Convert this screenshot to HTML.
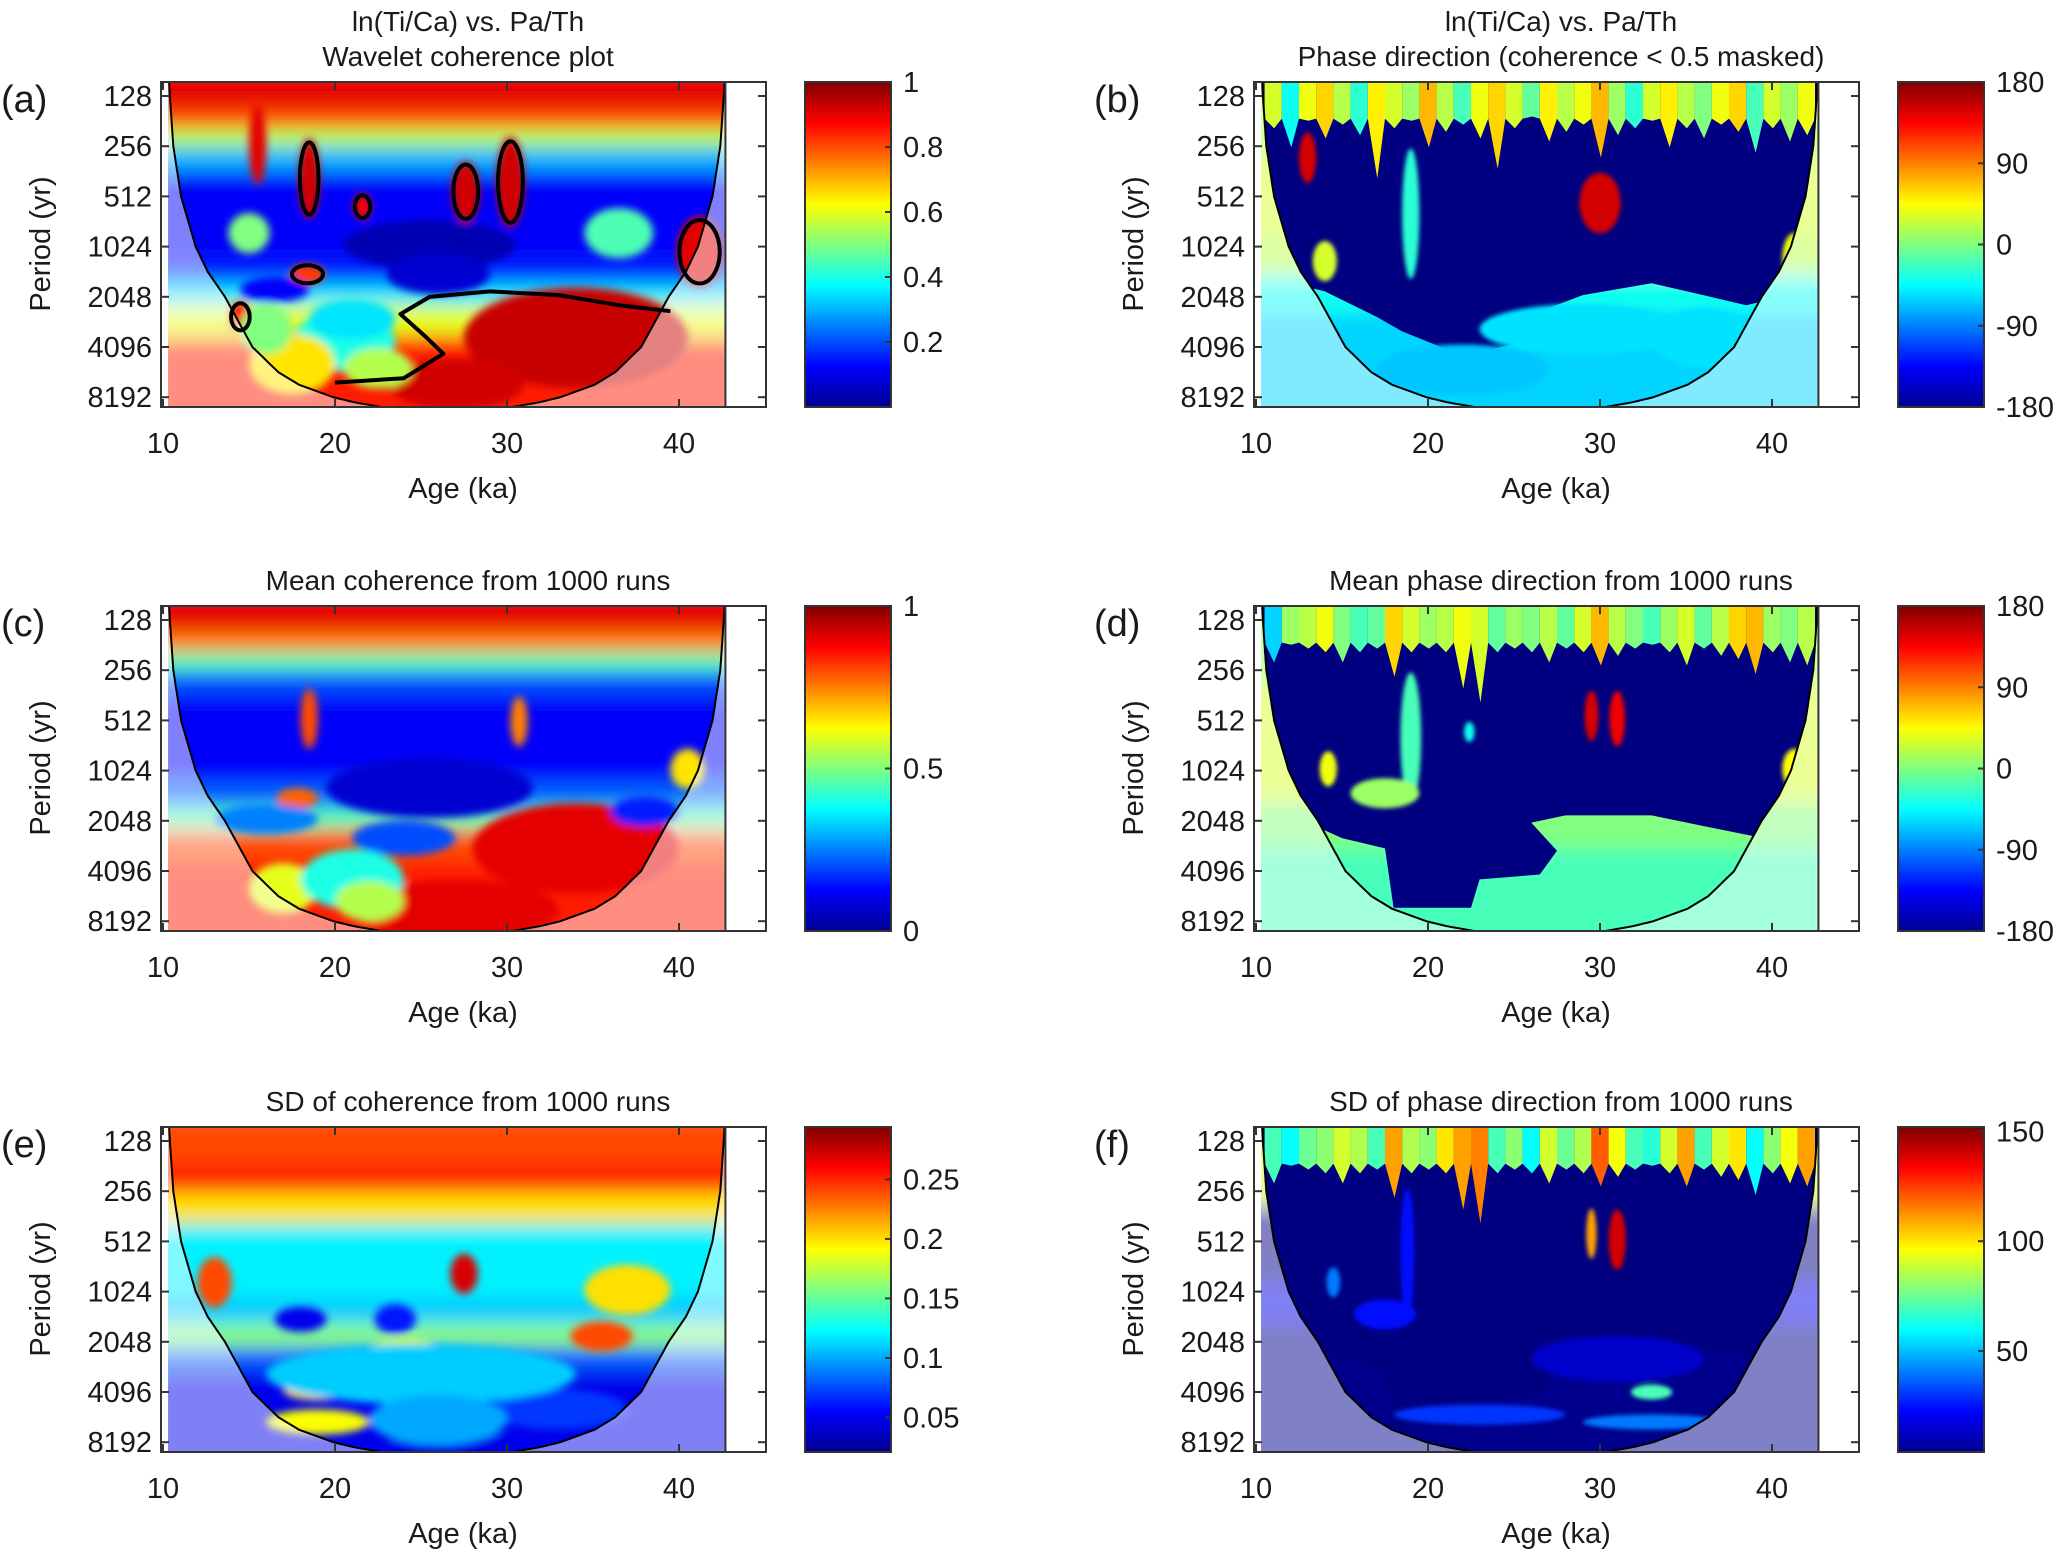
<!DOCTYPE html>
<html><head><meta charset="utf-8">
<style>
html,body{margin:0;padding:0;background:#fff;}
svg text{font-family:"Liberation Sans",Arial,sans-serif;fill:#1a1a1a;}
</style></head>
<body>
<svg id="fig" xmlns="http://www.w3.org/2000/svg" width="2067" height="1558" viewBox="0 0 2067 1558">
<defs>
<filter id="blurS" x="-20%" y="-20%" width="140%" height="140%"><feGaussianBlur stdDeviation="9"/></filter>
<filter id="blurM" x="-50%" y="-50%" width="200%" height="200%"><feGaussianBlur stdDeviation="4"/></filter>
<filter id="blurT" x="-20%" y="-20%" width="140%" height="140%"><feGaussianBlur stdDeviation="2"/></filter>
<linearGradient id="jetGrad" x1="0" y1="1" x2="0" y2="0">
<stop offset="0" stop-color="#00008f"/><stop offset="0.125" stop-color="#0000ff"/><stop offset="0.375" stop-color="#00ffff"/><stop offset="0.625" stop-color="#ffff00"/><stop offset="0.875" stop-color="#ff0000"/><stop offset="1" stop-color="#800000"/>
</linearGradient>
</defs>
</svg>
<script>
// ---------------- data ----------------
const ageTicks = [10, 20, 30, 40];
const periodTicks = [128, 256, 512, 1024, 2048, 4096, 8192];
const coiLog2 = [6.7, 7, 8, 9, 10, 10.5, 11, 11.5, 12, 12.5, 12.75, 13, 13.1, 13.25];
const coiDist = [0.05, 0.1, 0.3, 0.75, 1.6, 2.3, 3.3, 4.1, 4.9, 6.4, 7.6, 9.6, 10.8, 13.3];
const fingerAges = [11,12,13,14,15,16,17,18,19,20,21,22,23,24,25,26,27,28,29,30,31,32,33,34,35,36,37,38,39,40,41,42];

// panel a: coherence
const aBandPer = [90, 150, 200, 260, 360, 1200, 1700, 2300, 3500, 12000];
const aBandVal = [0.9, 0.8, 0.55, 0.3, 0.12, 0.15, 0.35, 0.6, 0.85];
const aBlobAge = [18.5, 27.6, 30.2, 21.6, 41.2, 18.4, 34, 27, 20.5, 17.5, 25.5, 15, 36.5, 16.5, 26, 14.5, 21, 15.5, 22.5, 16];
const aBlobPer = [400, 480, 420, 590, 1100, 1500, 3600, 6800, 3800, 5200, 1000, 850, 850, 1850, 1500, 2700, 2800, 250, 5500, 3200];
const aBlobVal = [0.92, 0.92, 0.92, 0.88, 0.9, 0.82, 0.93, 0.92, 0.4, 0.65, 0.05, 0.5, 0.45, 0.12, 0.08, 0.85, 0.35, 0.9, 0.55, 0.5];
const aBlobW = [0.6, 0.8, 0.8, 0.5, 1.3, 1.0, 6.5, 4, 3, 2.5, 5, 1.2, 2, 2, 3, 0.6, 2.5, 0.5, 2, 1.5];
const aBlobH = [0.8, 0.6, 0.9, 0.25, 0.7, 0.2, 1.0, 0.5, 0.6, 0.6, 0.5, 0.4, 0.5, 0.25, 0.4, 0.3, 0.4, 0.8, 0.4, 0.5];
const aContourAge = [20, 24, 26.3, 25.2, 23.8, 25.5, 29, 33, 36.5, 39.5];
const aContourPer = [6700, 6300, 4500, 3500, 2600, 2050, 1900, 2000, 2300, 2500];

// panel c: mean coherence
const cBandPer = [90, 150, 200, 260, 360, 1200, 1700, 2300, 3500, 12000];
const cBandVal = [0.9, 0.75, 0.45, 0.2, 0.12, 0.22, 0.45, 0.8, 0.85];
const cBlobAge = [18.5, 30.7, 34, 27, 24, 17, 21, 25.5, 17.8, 40.5, 16, 38, 22];
const cBlobPer = [500, 520, 3000, 7000, 2600, 5200, 4600, 1300, 1500, 1000, 2000, 1800, 6200];
const cBlobVal = [0.8, 0.75, 0.9, 0.9, 0.2, 0.6, 0.4, 0.08, 0.78, 0.65, 0.25, 0.15, 0.55];
const cBlobW = [0.5, 0.5, 6, 6, 3, 2, 3, 6, 1.2, 1, 3, 2, 2];
const cBlobH = [0.6, 0.5, 0.9, 0.6, 0.35, 0.5, 0.6, 0.6, 0.2, 0.4, 0.3, 0.3, 0.4];

// panel e: SD of coherence
const eBandPer = [90, 170, 260, 400, 1100, 1600, 2200, 3000, 6000, 12000];
const eBandVal = [0.24, 0.25, 0.2, 0.12, 0.11, 0.16, 0.08, 0.05, 0.05];
const eBlobAge = [13, 27.5, 35.5, 37, 18, 23.5, 19, 19, 24, 33, 27, 25, 26];
const eBlobPer = [900, 800, 1900, 1000, 1500, 1500, 4000, 6200, 2300, 5200, 8600, 3200, 6000];
const eBlobVal = [0.24, 0.27, 0.24, 0.2, 0.05, 0.06, 0.2, 0.19, 0.18, 0.07, 0.05, 0.11, 0.1];
const eBlobW = [1.0, 0.8, 1.8, 2.5, 1.5, 1.2, 2, 3, 2, 4, 4, 9, 4];
const eBlobH = [0.5, 0.4, 0.3, 0.5, 0.25, 0.3, 0.2, 0.25, 0.25, 0.4, 0.3, 0.6, 0.5];

// panel b: phase (masked)
const bBandPer = [90, 300, 900, 1500, 2600, 12000];
const bBandVal = [20, 30, 20, -40, -60];
const bFingerDepth = [200,260,180,230,190,220,400,200,180,260,210,190,230,350,200,170,240,210,190,300,220,200,180,260,200,230,190,210,280,200,240,220];
const bFingerVal = [30,-40,40,60,20,-30,50,30,10,70,20,-20,40,60,30,-10,50,20,40,70,10,-30,30,50,20,0,40,60,-20,30,10,40];
const bMaskAge = [10, 14, 17, 18.5, 21, 23, 25.5, 27, 29, 33, 36, 38.5, 41, 43];
const bMaskPer = [1500, 1900, 2700, 3300, 4200, 4400, 3800, 2400, 2000, 1700, 2000, 2300, 2000, 1700];
const bBlobAge = [19, 30, 14, 41.3, 13, 29, 22, 36];
const bBlobPer = [650, 560, 1250, 1200, 300, 3200, 5600, 3600];
const bBlobVal = [-30, 150, 30, 40, 150, -55, -65, -55];
const bBlobW = [0.5, 1.2, 0.7, 0.7, 0.5, 6, 5, 3];
const bBlobH = [1.3, 0.6, 0.4, 0.5, 0.5, 0.5, 0.5, 0.6];

// panel d: mean phase
const dBandPer = [90, 300, 1000, 1600, 3000, 12000];
const dBandVal = [10, 30, 30, 0, -20];
const dFingerDepth = [230,180,190,200,230,200,190,280,200,190,200,330,400,200,190,200,230,190,200,240,210,190,180,200,240,190,210,220,270,200,230,240];
const dFingerVal = [-60,10,20,40,0,-20,-10,60,30,10,20,40,30,-10,10,0,20,-10,30,70,20,0,-20,10,30,-10,20,60,70,10,0,20];
const dMaskAge = [10, 13, 15, 17.5, 18, 22.5, 23, 26.5, 27.5, 26, 28, 33, 36, 39.5, 43];
const dMaskPer = [1900, 2100, 2600, 3000, 6800, 6800, 4600, 4300, 3100, 2100, 1900, 1900, 2200, 2600, 2600];
const dBlobAge = [19, 29.5, 31, 14.2, 41.3, 17.5, 22.4];
const dBlobPer = [650, 480, 500, 1000, 1000, 1400, 600];
const dBlobVal = [-20, 150, 140, 40, 45, 10, -40];
const dBlobW = [0.6, 0.4, 0.45, 0.5, 0.7, 2, 0.3];
const dBlobH = [1.3, 0.5, 0.55, 0.35, 0.4, 0.3, 0.2];

// panel f: SD of phase
const fBandPer = [90, 300, 900, 1600, 12000];
const fBandVal = [90, 5, 20, 6];
const fFingerDepth = [230,180,190,200,230,200,190,280,200,190,200,330,400,200,190,200,230,190,200,240,210,190,180,200,240,190,210,220,270,200,230,240];
const fFingerVal = [70,60,75,80,90,85,70,110,85,80,100,110,115,70,80,60,90,75,85,120,95,70,65,90,110,70,90,100,60,80,95,110];
const fMaskAge = [10, 13, 15, 17.5, 18, 22.5, 23, 26.5, 27.5, 26, 28, 33, 36, 39.5, 43];
const fMaskPer = [1900, 2100, 2600, 3000, 6800, 6800, 4600, 4300, 3100, 2100, 1900, 1900, 2200, 2600, 2600];
const fBlobAge = [29.5, 31, 18.8, 14.5, 17.5, 31, 33, 23, 33];
const fBlobPer = [460, 500, 600, 900, 1400, 2600, 4100, 5600, 6200];
const fBlobVal = [110, 140, 25, 40, 25, 15, 70, 30, 40];
const fBlobW = [0.3, 0.5, 0.4, 0.4, 1.8, 5, 1.2, 5, 4];
const fBlobH = [0.5, 0.6, 1.3, 0.3, 0.3, 0.45, 0.15, 0.2, 0.15];

// ---------------- layout ----------------
const svg = document.getElementById('fig');
const NS = 'http://www.w3.org/2000/svg';
const colOff = [0, 1093];
const rowTop = [82, 606, 1127];
const AX_H = 325;
function mk(tag, parent) { const e = document.createElementNS(NS, tag); parent.appendChild(e); return e; }
function setA(e, o) { for (const k in o) e.setAttribute(k, o[k]); return e; }
function jet(t) {
  t = Math.max(0, Math.min(1, t));
  const c = v => Math.round(255 * Math.max(0, Math.min(1, v)));
  return 'rgb(' + c(1.5 - Math.abs(4 * t - 3)) + ',' + c(1.5 - Math.abs(4 * t - 2)) + ',' + c(1.5 - Math.abs(4 * t - 1)) + ')';
}
function interp(xs, ys, x) {
  if (x <= xs[0]) return ys[0];
  for (let i = 1; i < xs.length; i++) if (x <= xs[i]) { const f = (x - xs[i-1]) / (xs[i] - xs[i-1]); return ys[i-1] + f * (ys[i] - ys[i-1]); }
  return ys[ys.length - 1];
}
const AGE0 = 10.3, AGE1 = 42.7;

function makePanel(cfg) {
  const ox = colOff[cfg.col], top = rowTop[cfg.row];
  const xA = a => 163 + (a - 10) * 17.2 + ox;
  const yP = p => top + 14 + (Math.log2(p) - 7) * 50.2;
  const col = v => jet((v - cfg.vmin) / (cfg.vmax - cfg.vmin));
  const dx0 = xA(AGE0), dx1 = xA(AGE1), bot = top + AX_H;

  const g = mk('g', svg);
  
  

  const clip = setA(mk('clipPath', g), { id: 'clip-' + cfg.id });
  setA(mk('rect', clip), { x: dx0, y: top, width: dx1 - dx0, height: AX_H });

  let coneL = [], coneR = [];
  for (let p = 6.7; p <= 13.25001; p += 0.025) {
    const d = interp(coiLog2, coiDist, p);
    const y = top + 14 + (p - 7) * 50.2;
    coneL.push([xA(AGE0 + d), y]); coneR.push([xA(AGE1 - d), y]);
  }
  const coneD = 'M' + coneL.map(q => q[0].toFixed(1) + ',' + q[1].toFixed(1)).join('L') + 'L' +
    coneR.reverse().map(q => q[0].toFixed(1) + ',' + q[1].toFixed(1)).join('L') + 'Z';
  const coneClip = setA(mk('clipPath', g), { id: 'cone-' + cfg.id });
  setA(mk('path', coneClip), { d: coneD });

  const heat = setA(mk('g', g), { 'clip-path': 'url(#clip-' + cfg.id + ')' });
  
  
  const soft = setA(mk('g', heat), { filter: 'url(#blurS)' });
  for (let i = 0; i < cfg.bandVal.length; i++) {
    const y0 = yP(cfg.bandPer[i]), y1 = yP(cfg.bandPer[i+1]);
    const r = setA(mk('rect', soft), { x: dx0 - 40, y: y0, width: dx1 - dx0 + 80, height: y1 - y0, fill: col(cfg.bandVal[i]) });
    
    
  }
  const drawBlobs = (parent) => {
    for (let i = 0; i < cfg.blobAge.length; i++) {
      const e = setA(mk('ellipse', parent), { cx: xA(cfg.blobAge[i]), cy: yP(cfg.blobPer[i]), rx: cfg.blobW[i] * 17.2, ry: cfg.blobH[i] * 50.2, fill: col(cfg.blobVal[i]) });
      
      
    }
  };
  if (!cfg.mask) {
    const med = setA(mk('g', heat), { filter: 'url(#blurM)' });
    drawBlobs(med);
  } else {
    const sharp = setA(mk('g', heat), { 'clip-path': 'url(#cone-' + cfg.id + ')' });
    let d = 'M' + xA(AGE0 - 1) + ',' + top;
    d += 'L' + xA(AGE1 + 1) + ',' + top;
    for (let i = cfg.maskAge.length - 1; i >= 0; i--) d += 'L' + xA(cfg.maskAge[i]).toFixed(1) + ',' + yP(cfg.maskPer[i]).toFixed(1);
    d += 'Z';
    const m = setA(mk('path', sharp), { d: d, fill: col(cfg.vmin) });
    
    
    const tb = setA(mk('g', sharp), { filter: 'url(#blurT)' });
    drawBlobs(tb);
    const fg = mk('g', heat);
    for (let i = 0; i < fingerAges.length; i++) {
      const a = fingerAges[i];
      const yb = yP(cfg.fingerDepth[i]);
      const x0 = xA(a - 0.5), x1 = xA(a + 0.5), xm = xA(a + 0.05);
      const yTopBand = yP(175);
      const f = setA(mk('path', fg), { d: `M${x0},${top}L${x1},${top}L${x1},${yTopBand}L${xm},${yb}L${x0},${yTopBand}Z`, fill: col(cfg.fingerVal[i]) });
      
      
    }
  }
  const fade = setA(mk('path', heat), { d: `M${dx0 - 5},${top - 5}L${dx1 + 5},${top - 5}L${dx1 + 5},${bot + 5}L${dx0 - 5},${bot + 5}Z ` + coneD, fill: '#ffffff', 'fill-opacity': 0.5, 'fill-rule': 'evenodd' });
  
  

  if (cfg.contours) {
    const cg = setA(mk('g', heat), { fill: 'none', stroke: '#000', 'stroke-width': 4 });
    cfg.contours.forEach(i => {
      const e = setA(mk('ellipse', cg), { cx: xA(cfg.blobAge[i]), cy: yP(cfg.blobPer[i]), rx: cfg.blobW[i] * 17.2 * 0.9, ry: cfg.blobH[i] * 50.2 * 0.9 });
      
      
    });
    const pts = cfg.contourAge.map((a, i) => xA(a).toFixed(1) + ',' + yP(cfg.contourPer[i]).toFixed(1)).join(' ');
    const pl = setA(mk('polyline', cg), { points: pts, 'stroke-linejoin': 'round' });
    
    
  }
  const coneLine = setA(mk('path', heat), { d: coneD, fill: 'none', stroke: '#000', 'stroke-width': 2 });
  
  

  const axL = 161 + ox, axR = 766 + ox;
  const box = setA(mk('rect', g), { x: axL, y: top, width: axR - axL, height: AX_H, fill: 'none', stroke: '#333', 'stroke-width': 2 });
  
  
  const dl = setA(mk('line', g), { x1: dx1, y1: top, x2: dx1, y2: bot, stroke: '#333', 'stroke-width': 2 });
  
  
  periodTicks.forEach(p => {
    const y = yP(p);
    setA(mk('line', g), { x1: axL, y1: y, x2: axL + 8, y2: y, stroke: '#333', 'stroke-width': 2 });
    setA(mk('line', g), { x1: axR, y1: y, x2: axR - 8, y2: y, stroke: '#333', 'stroke-width': 2 });
    const t = setA(mk('text', g), { x: axL - 9, y: y + 10, 'font-size': 29, 'text-anchor': 'end' });
    t.textContent = p;
    
    
  });
  ageTicks.forEach(a => {
    const x = xA(a);
    setA(mk('line', g), { x1: x, y1: bot, x2: x, y2: bot - 8, stroke: '#333', 'stroke-width': 2 });
    setA(mk('line', g), { x1: x, y1: top, x2: x, y2: top + 8, stroke: '#333', 'stroke-width': 2 });
    const t = setA(mk('text', g), { x: x, y: bot + 46, 'font-size': 29, 'text-anchor': 'middle' });
    t.textContent = a;
    
    
  });
  const xl = setA(mk('text', g), { x: 463 + ox, y: bot + 91, 'font-size': 29, 'text-anchor': 'middle' });
  xl.textContent = 'Age (ka)';
  
  
  const yl = setA(mk('text', g), { x: 0, y: 0, 'font-size': 29, 'text-anchor': 'middle', transform: `translate(${50 + ox},${top + 162}) rotate(-90)` });
  yl.textContent = 'Period (yr)';
  
  
  const pl2 = setA(mk('text', g), { x: 1 + ox, y: top + 30, 'font-size': 38 });
  pl2.textContent = '(' + cfg.id + ')';
  
  
  cfg.title.forEach((line, i) => {
    const t = setA(mk('text', g), { x: 463 + ox + 5, y: top - 16 - (cfg.title.length - 1 - i) * 35, 'font-size': 28, 'text-anchor': 'middle' });
    t.textContent = line;
    
    
  });
  const cbL = 805 + ox, cbW = 86;
  const cb = setA(mk('rect', g), { x: cbL, y: top, width: cbW, height: AX_H, fill: 'url(#jetGrad)', stroke: '#333', 'stroke-width': 2 });
  
  
  cfg.cbTicks.forEach((v, i) => {
    const y = bot - (v - cfg.vmin) / (cfg.vmax - cfg.vmin) * AX_H;
    setA(mk('line', g), { x1: cbL + cbW, y1: y, x2: cbL + cbW - 6, y2: y, stroke: '#333', 'stroke-width': 2 });
    const t = setA(mk('text', g), { x: cbL + cbW + 12, y: y + 10, 'font-size': 29 });
    t.textContent = cfg.cbLabels[i];
    
    
  });
}

makePanel({ id: 'a', col: 0, row: 0, vmin: 0, vmax: 1, title: ['ln(Ti/Ca) vs. Pa/Th', 'Wavelet coherence plot'],
  bandPer: aBandPer, bandVal: aBandVal, blobAge: aBlobAge, blobPer: aBlobPer, blobVal: aBlobVal, blobW: aBlobW, blobH: aBlobH,
  contours: [0, 1, 2, 3, 4, 5, 15], contourAge: aContourAge, contourPer: aContourPer,
  cbTicks: [1, 0.8, 0.6, 0.4, 0.2], cbLabels: ['1', '0.8', '0.6', '0.4', '0.2'] });
makePanel({ id: 'b', col: 1, row: 0, vmin: -180, vmax: 180, title: ['ln(Ti/Ca) vs. Pa/Th', 'Phase direction (coherence < 0.5 masked)'],
  bandPer: bBandPer, bandVal: bBandVal, blobAge: bBlobAge, blobPer: bBlobPer, blobVal: bBlobVal, blobW: bBlobW, blobH: bBlobH,
  mask: true, maskAge: bMaskAge, maskPer: bMaskPer, fingerDepth: bFingerDepth, fingerVal: bFingerVal,
  cbTicks: [180, 90, 0, -90, -180], cbLabels: ['180', '90', '0', '-90', '-180'] });
makePanel({ id: 'c', col: 0, row: 1, vmin: 0, vmax: 1, title: ['Mean coherence from 1000 runs'],
  bandPer: cBandPer, bandVal: cBandVal, blobAge: cBlobAge, blobPer: cBlobPer, blobVal: cBlobVal, blobW: cBlobW, blobH: cBlobH,
  cbTicks: [1, 0.5, 0], cbLabels: ['1', '0.5', '0'] });
makePanel({ id: 'd', col: 1, row: 1, vmin: -180, vmax: 180, title: ['Mean phase direction from 1000 runs'],
  bandPer: dBandPer, bandVal: dBandVal, blobAge: dBlobAge, blobPer: dBlobPer, blobVal: dBlobVal, blobW: dBlobW, blobH: dBlobH,
  mask: true, maskAge: dMaskAge, maskPer: dMaskPer, fingerDepth: dFingerDepth, fingerVal: dFingerVal,
  cbTicks: [180, 90, 0, -90, -180], cbLabels: ['180', '90', '0', '-90', '-180'] });
makePanel({ id: 'e', col: 0, row: 2, vmin: 0.021, vmax: 0.294, title: ['SD of coherence from 1000 runs'],
  bandPer: eBandPer, bandVal: eBandVal, blobAge: eBlobAge, blobPer: eBlobPer, blobVal: eBlobVal, blobW: eBlobW, blobH: eBlobH,
  cbTicks: [0.25, 0.2, 0.15, 0.1, 0.05], cbLabels: ['0.25', '0.2', '0.15', '0.1', '0.05'] });
makePanel({ id: 'f', col: 1, row: 2, vmin: 4, vmax: 152, title: ['SD of phase direction from 1000 runs'],
  bandPer: fBandPer, bandVal: fBandVal, blobAge: fBlobAge, blobPer: fBlobPer, blobVal: fBlobVal, blobW: fBlobW, blobH: fBlobH,
  mask: true, maskAge: fMaskAge, maskPer: fMaskPer, fingerDepth: fFingerDepth, fingerVal: fFingerVal,
  cbTicks: [150, 100, 50], cbLabels: ['150', '100', '50'] });
</script>
</body></html>
